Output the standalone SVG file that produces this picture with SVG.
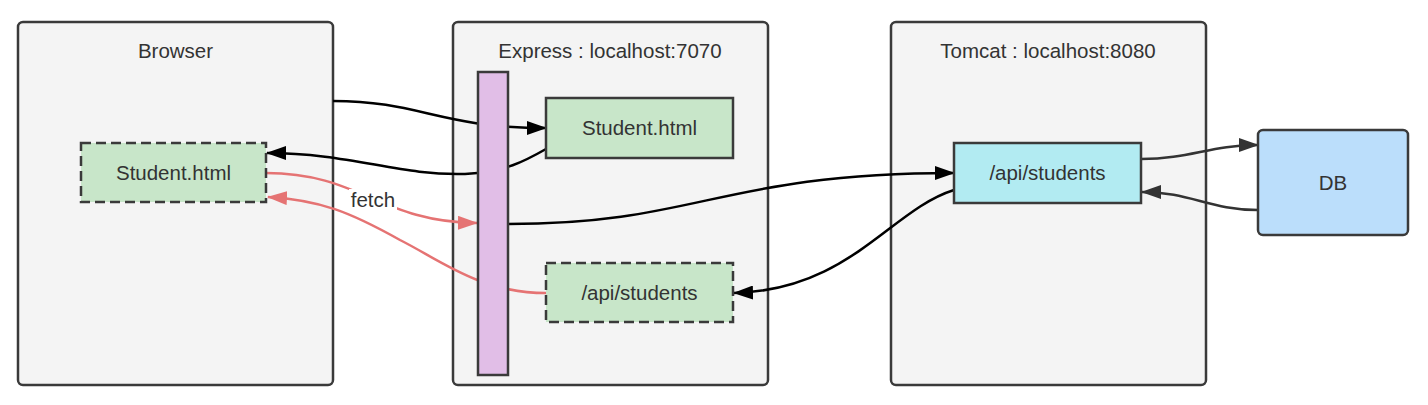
<svg xmlns="http://www.w3.org/2000/svg" width="1428" height="405" viewBox="0 0 1428 405">
<defs>
<style>
.cont{fill:#f4f4f4;stroke:#3a3a3a;stroke-width:2.5}
.node{stroke:#3a3a3a;stroke-width:2.5}
.dash{stroke-dasharray:10 5}
.green{fill:#c8e6c9}
.purple{fill:#e1bee7}
.cyan{fill:#b2ebf2}
.blue{fill:#bbdefb}
.t{font-family:"Liberation Sans",Arial,sans-serif;font-size:20.5px;fill:#333;text-anchor:middle}
.e{fill:none;stroke-width:2.5}
.blk{stroke:#000}
.gry{stroke:#333}
.red{stroke:#e57373}
</style>
<marker id="aBlk" viewBox="0 0 20 14" refX="19" refY="7" markerWidth="20" markerHeight="14" markerUnits="userSpaceOnUse" orient="auto"><path d="M0,0 L20,7 L0,14 z" fill="#000"/></marker>
<marker id="aGry" viewBox="0 0 20 14" refX="19" refY="7" markerWidth="20" markerHeight="14" markerUnits="userSpaceOnUse" orient="auto"><path d="M0,0 L20,7 L0,14 z" fill="#333"/></marker>
<marker id="aRed" viewBox="0 0 20 14" refX="19" refY="7" markerWidth="20" markerHeight="14" markerUnits="userSpaceOnUse" orient="auto"><path d="M0,0 L20,7 L0,14 z" fill="#e57373"/></marker>
</defs>
<rect width="1428" height="405" fill="#fff"/>
<g id="browser">
<rect class="cont" x="18" y="22" width="315" height="363" rx="5"/>
<text class="t" x="175.5" y="57.5">Browser</text>
</g>
<g id="express">
<rect class="cont" x="453" y="22" width="315" height="363" rx="5"/>
<text class="t" x="610" y="57.5">Express : localhost:7070</text>
</g>
<g id="tomcat">
<rect class="cont" x="891" y="22" width="315" height="363" rx="5"/>
<text class="t" x="1048" y="57.5">Tomcat : localhost:8080</text>
</g>
<g id="connectors">
<path class="e blk" d="M333,101 C420,101 440,128 546,128" marker-end="url(#aBlk)"/>
<path class="e blk" d="M546,149 C525,161 505,172 465,174 C400,176 350,153 267,153" marker-end="url(#aBlk)"/>
<path class="e red" d="M266,173 C360,173 380,222 477,223" marker-end="url(#aRed)"/>
<path class="e red" d="M546,293 C480,293 440,260 400,240 C350,212 320,200 268,197" marker-end="url(#aRed)"/>
<path class="e blk" d="M508,224 C700,224 720,173 954,173" marker-end="url(#aBlk)"/>
<path class="e blk" d="M954,190 C890,210 850,290 734,293" marker-end="url(#aBlk)"/>
<path class="e gry" d="M1141,159 C1190,159 1210,145 1258,145" marker-end="url(#aGry)"/>
<path class="e gry" d="M1258,210 C1210,210 1190,192 1142,192" marker-end="url(#aGry)"/>
<g id="fetch-label">
<rect x="349" y="189" width="48" height="24" fill="#fff"/>
<text class="t" x="373" y="207">fetch</text>
</g>
</g>
<g id="browser-student">
<rect class="node green dash" x="81" y="143" width="185" height="59"/>
<text class="t" x="173.5" y="180">Student.html</text>
</g>
<g id="proxy-bar">
<rect class="node purple" x="478" y="72" width="30" height="303"/>
</g>
<g id="express-student">
<rect class="node green" x="546" y="98" width="187" height="60"/>
<text class="t" x="639.5" y="135">Student.html</text>
</g>
<g id="express-api">
<rect class="node green dash" x="546" y="263" width="187" height="59"/>
<text class="t" x="639.5" y="300">/api/students</text>
</g>
<g id="tomcat-api">
<rect class="node cyan" x="954" y="143" width="187" height="60"/>
<text class="t" x="1047.5" y="180">/api/students</text>
</g>
<g id="db">
<rect class="node blue" x="1258" y="130" width="150" height="105" rx="5"/>
<text class="t" x="1333" y="190">DB</text>
</g>
</svg>
